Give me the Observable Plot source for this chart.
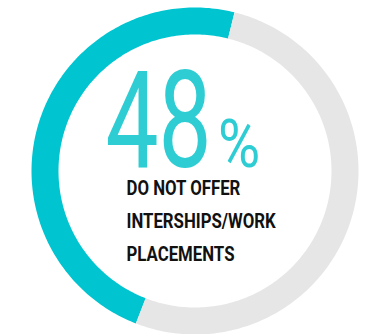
<!DOCTYPE html>
<html>
<head>
<meta charset="utf-8">
<script src="https://cdn.jsdelivr.net/npm/d3@7"></script>
<script src="https://cdn.jsdelivr.net/npm/@observablehq/plot@0.6"></script>
<style>
  html, body { margin: 0; padding: 0; background: #fff; }
  #chart svg { display: block; }
</style>
</head>
<body>
<div id="chart"></div>
<script>
// Share of organisations, in percent
const categories = ["Do not offer internships/work placements", "Offer internships/work placements"];
const shares = [48, 52];
const colors = ["#00C5D1", "#E6E6E6"];
const unitLabel = "%";
const captionLines = ["DO NOT OFFER", "INTERSHIPS/WORK", "PLACEMENTS"];

// Ring layout (pixels); the unit circle on the x/y scales is the ring's outer edge
const W = 370, H = 334;
const outerPx = 163.5, bandPx = 27;
const cx = 194.5, cy = 170.5;
const endAngle = 14; // degrees clockwise from 12 o'clock where the highlighted slice ends
const midR = (outerPx - bandPx / 2) / outerPx;

// Sample each slice as a polyline along the ring's centre line
const arcs = [];
let a1 = endAngle;
shares.forEach((s, i) => {
  const span = s / 100 * 360;
  const a0 = a1 - span;
  const n = Math.ceil(span);
  for (let k = 0; k <= n; k++) {
    const a = (a0 + span * k / n) * Math.PI / 180;
    arcs.push({cat: categories[i], x: midR * Math.sin(a), y: midR * Math.cos(a)});
  }
  a1 = a0;
});

const valueFont = "Roboto, 'Noto Sans', sans-serif";
const captionSize = 21, captionLead = 1.55;

const chart = Plot.plot({
  width: W,
  height: H,
  marginLeft: cx - outerPx,
  marginRight: W - cx - outerPx,
  marginTop: cy - outerPx,
  marginBottom: H - cy - outerPx,
  x: {domain: [-1, 1], axis: null},
  y: {domain: [-1, 1], axis: null},
  color: {domain: categories, range: colors},
  marks: [
    Plot.line(arcs, {x: "x", y: "y", z: "cat", stroke: "cat", strokeWidth: bandPx, strokeLinecap: "butt"}),
    Plot.text([String(shares[0])], {
      x: 0, y: 0, text: d => d, dx: -89.5, dy: 166 - cy,
      textAnchor: "start", lineAnchor: "bottom",
      fontSize: 135, fontWeight: 400, fontFamily: valueFont, fill: "#2ECDD4"
    }),
    Plot.text([unitLabel], {
      x: 0, y: 0, text: d => d, dx: 23, dy: 166 - cy,
      textAnchor: "start", lineAnchor: "bottom",
      fontSize: 67, fontWeight: 400, fontFamily: valueFont, fill: "#2ECDD4"
    }),
    Plot.text([captionLines.join("\n")], {
      x: 0, y: 0, text: d => d, dx: -68.5, dy: 195 - cy - 0.71 * captionLead * captionSize,
      textAnchor: "start", lineAnchor: "top", lineHeight: captionLead,
      fontSize: captionSize, fontWeight: 700, fontFamily: valueFont, fill: "#111"
    })
  ]
});

// Narrow the lettering horizontally to get a condensed face
const squeeze = [0.7, 0.86, 0.8];
d3.select(chart).selectAll("g[aria-label='text']").each(function (_, i) {
  d3.select(this).selectAll("text").attr("transform", function () {
    const t = this.getAttribute("transform") || "";
    return `${t} scale(${squeeze[i]},1)`;
  });
});

document.getElementById("chart").appendChild(chart);
</script>
</body>
</html>
